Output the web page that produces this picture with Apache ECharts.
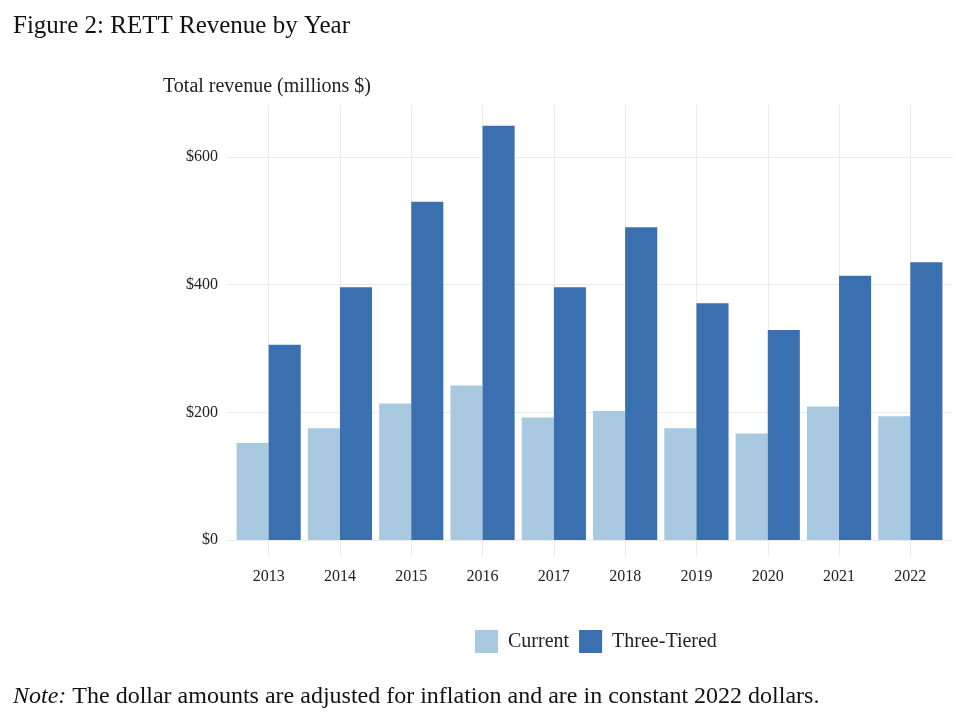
<!DOCTYPE html>
<html>
<head>
<meta charset="utf-8">
<title>RETT Revenue by Year</title>
<script src="https://cdn.jsdelivr.net/npm/echarts@6/dist/echarts.min.js"></script>
<style>
  html, body { margin: 0; padding: 0; background: #fff; }
  #main { width: 960px; height: 728px; }
</style>
</head>
<body>
<div id="main"></div>
<script type="text/javascript">
    // data
    var years = ['2013', '2014', '2015', '2016', '2017', '2018', '2019', '2020', '2021', '2022'];
    var current = [152, 175, 214, 242, 192, 202, 175, 167, 209, 194];
    var threeTiered = [306, 396, 530, 649, 396, 490, 371, 329, 414, 435];
    var yTicks = [0, 200, 400, 600];

    var serif = '"Liberation Serif", "Times New Roman", serif';
    var gridGrey = '#ebebeb';

    var myChart = echarts.init(document.getElementById('main'));

    var option = {
        backgroundColor: '#fff',
        animation: false,
        textStyle: { fontFamily: serif },
        graphic: [
            {
                type: 'text', left: 13, top: 14,
                style: { text: 'Figure 2: RETT Revenue by Year', font: '25px ' + serif, fill: '#111' }
            },
            {
                type: 'text', left: 163, top: 77,
                style: { text: 'Total revenue (millions $)', font: '20px ' + serif, fill: '#222' }
            },
            {
                type: 'text', left: 13, top: 685,
                style: {
                    text: '{i|Note:} The dollar amounts are adjusted for inflation and are in constant 2022 dollars.',
                    font: '24px ' + serif, fill: '#111',
                    rich: { i: { font: 'italic 24px ' + serif, fill: '#111' } }
                }
            }
        ],
        legend: {
            data: ['Current', 'Three-Tiered'],
            left: 470,
            top: 625,
            icon: 'rect',
            itemWidth: 23,
            itemHeight: 23,
            itemGap: 10,
            textStyle: { fontFamily: serif, fontSize: 20, color: '#222', padding: [0, 0, 0, 5] }
        },
        grid: {
            left: 233,
            right: 14,
            top: 157,
            bottom: 188
        },
        xAxis: [
            {
                type: 'category',
                data: years,
                axisLine: { show: false },
                axisTick: { show: true, alignWithLabel: true, length: 17, lineStyle: { color: gridGrey } },
                axisLabel: { margin: 29, fontSize: 16, color: '#222', fontFamily: serif },
                splitLine: { show: false }
            },
            {
                // vertical grid lines at each year, drawn as long inside ticks
                type: 'category',
                data: years,
                position: 'bottom',
                axisLine: { show: false },
                axisTick: { show: true, inside: true, alignWithLabel: true, length: 435, lineStyle: { color: gridGrey } },
                axisLabel: { show: false },
                splitLine: { show: false }
            }
        ],
        yAxis: [
            {
                type: 'value',
                min: yTicks[0],
                max: yTicks[yTicks.length - 1],
                interval: 200,
                axisLine: { show: false },
                axisTick: { show: true, length: 6, lineStyle: { color: gridGrey } },
                axisLabel: {
                    margin: 15, fontSize: 16, color: '#222', fontFamily: serif,
                    formatter: function (v) { return '$' + v; }
                },
                splitLine: { show: true, lineStyle: { color: gridGrey, width: 1 } }
            },
            {
                type: 'value',
                position: 'right',
                min: yTicks[0],
                max: yTicks[yTicks.length - 1],
                interval: 200,
                axisLine: { show: false },
                axisTick: { show: true, length: 7, lineStyle: { color: gridGrey } },
                axisLabel: { show: false },
                splitLine: { show: false }
            }
        ],
        series: [
            {
                name: 'Current',
                type: 'bar',
                data: current,
                clip: false,
                barGap: '0%',
                barCategoryGap: '10%',
                itemStyle: { color: '#a8c9e0' }
            },
            {
                name: 'Three-Tiered',
                type: 'bar',
                data: threeTiered,
                clip: false,
                barGap: '0%',
                barCategoryGap: '10%',
                itemStyle: { color: '#3a6fb0' }
            }
        ]
    };

    myChart.setOption(option);
</script>
</body>
</html>
